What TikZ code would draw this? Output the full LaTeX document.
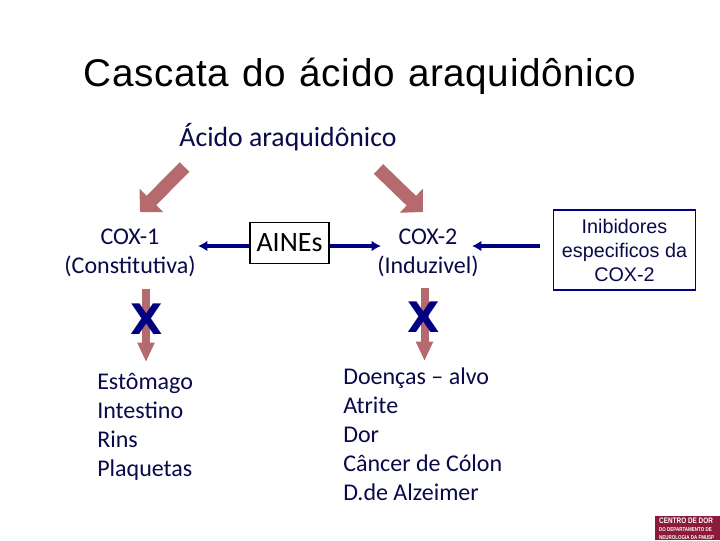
\documentclass[tikz,border=0pt]{standalone}
\usepackage{fontspec}
\setmainfont{Carlito}
\newfontfamily\arialf{Liberation Sans}
\newfontfamily\crossf{DejaVu Sans}
\newfontfamily\titlef[LetterSpace=1.5,WordSpace=1.2]{Liberation Sans}
\usetikzlibrary{arrows.meta}
\definecolor{navy}{HTML}{000080}
\definecolor{txtnavy}{HTML}{0A0A4A}
\definecolor{rosy}{HTML}{B56B6D}
\definecolor{logored}{HTML}{8A1C3A}
\tikzset{
  bigarrow/.style={draw=rosy,line width=10.1pt,-{Triangle[length=12.2pt,width=24.4pt,fill=rosy]}},
  downarrow/.style={draw=rosy,line width=6pt,-{Triangle[length=14.5pt,width=12pt,fill=rosy]}},
  inhibit/.style={draw=navy,line width=2.5pt,-{Latex[length=7pt,width=8pt]}},
  enzyme/.style={font=\fontsize{18pt}{21.75pt}\selectfont,text=txtnavy,align=center,inner sep=0pt},
  listing/.style={font=\fontsize{18pt}{21.75pt}\selectfont,text=txtnavy,align=left,inner sep=0pt,anchor=north west},
  crossmark/.style={font=\crossf\bfseries\fontsize{31.5pt}{33pt}\selectfont,text=navy,inner sep=0pt},
}
\begin{document}
\begin{tikzpicture}[x=0.75pt,y=-0.75pt]
\useasboundingbox (0,0) rectangle (720,540);
\fill[white] (0,0) rectangle (720,540);
\node[font=\titlef\fontsize{29pt}{34pt}\selectfont,inner sep=0pt,anchor=base] (title) at (360,86) {Cascata do ácido araquidônico};
\node[font=\fontsize{20.8pt}{25pt}\selectfont,text=txtnavy,inner sep=0pt] (acid) at (288,137) {Ácido araquidônico};
\node[enzyme] (cox1) at (130,252.5) {COX-1\\(Constitutiva)};
\node[enzyme] (cox2) at (428,252.5) {COX-2\\(Induzivel)};
\node[draw=black,line width=0.8pt,minimum width=59.25pt,minimum height=30.5pt,inner sep=0pt,font=\fontsize{21pt}{25pt}\selectfont] (aines) at (289.5,243) {AINEs};
\node[draw=navy,line width=0.8pt,font=\arialf\fontsize{14.8pt}{18pt}\selectfont,text=txtnavy,align=center,minimum width=107pt,minimum height=60pt,inner sep=0pt] (inib) at (624.5,250) {Inibidores\\especificos da\\COX-2};
\node[listing] (list1) at (97,373) {Estômago\\Intestino\\Rins\\Plaquetas};
\node[listing] (list2) at (343,368) {Doenças -- alvo\\Atrite\\Dor\\Câncer de Cólon\\D.de Alzeimer};
\coordinate (a1s) at (184.5,167); \coordinate (a1e) at (140,212);
\coordinate (a2s) at (378.5,169); \coordinate (a2e) at (423,212);
\coordinate (d1s) at (146,289); \coordinate (d1e) at (146,362);
\coordinate (d2s) at (424.5,288); \coordinate (d2e) at (424.5,361);
\coordinate (b1e) at (198,246); \coordinate (b2e) at (381,246);
\coordinate (b3s) at (540,246); \coordinate (b3e) at (472,246);
\draw[bigarrow] (a1s) -- (a1e);
\draw[bigarrow] (a2s) -- (a2e);
\draw[downarrow] (d1s) -- (d1e);
\draw[downarrow] (d2s) -- (d2e);
\node[crossmark] (x1) at (147,319) {X};
\node[crossmark] (x2) at (424,317) {X};
\draw[inhibit] (aines.west |- b1e) -- (b1e);
\draw[inhibit] (aines.east |- b2e) -- (b2e);
\draw[inhibit] (b3s) -- (b3e);
\fill[logored] (655,516) rectangle (720,540);
\node[anchor=north west,inner sep=0pt,text=white,font=\arialf\bfseries\fontsize{6pt}{6.4pt}\selectfont,align=left,xscale=0.8] (logo) at (659,518) {CENTRO DE DOR\\[-0.5pt]{\fontsize{4.2pt}{5pt}\selectfont DO DEPARTAMENTO DE}\\[-0.5pt]{\fontsize{4.2pt}{5pt}\selectfont NEUROLOGIA DA FMUSP}};
\end{tikzpicture}
\end{document}
